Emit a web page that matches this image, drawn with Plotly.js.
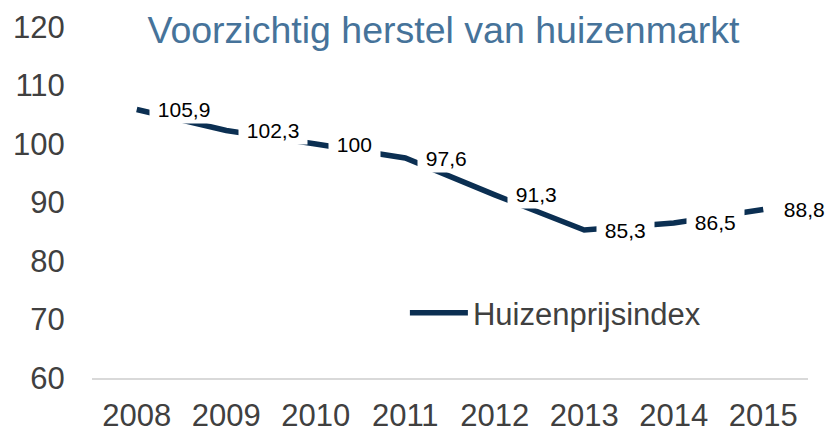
<!DOCTYPE html>
<html>
<head>
<meta charset="utf-8">
<script src="https://cdn.plot.ly/plotly-3.0.1.min.js"></script>
<style>
  html, body { margin: 0; padding: 0; background: #fff; }
  #chart { width: 832px; height: 429px; }
</style>
</head>
<body>
<div id="chart"></div>
<script>
    // huizenprijsindex per jaar
    var years = ['2008', '2009', '2010', '2011', '2012', '2013', '2014', '2015'];
    var index = [105.9, 102.3, 100, 97.6, 91.3, 85.3, 86.5, 88.8];
    var seriesName = 'Huizenprijsindex';
    var yTicks = [60, 70, 80, 90, 100, 110, 120];

    var trace = {
      x: years,
      y: index,
      name: seriesName,
      type: 'scatter',
      mode: 'lines',
      line: {color: '#0b2f52', width: 5.5},
      hoverinfo: 'skip'
    };

    // labels with white box, to the right of each point (comma decimals)
    // x given as category position, a '2008' string would be read as index 2008
    var labels = [];
    for (var i = 0; i < years.length; i++)
    {
      labels.push({
        x: i,
        y: index[i],
        text: '\u00a0' + String(index[i]).replace('.', ',') + '\u00a0',
        showarrow: false,
        xanchor: 'left',
        yanchor: 'middle',
        xshift: 12,
        bgcolor: '#ffffff',
        borderpad: 2,
        font: {family: 'Liberation Sans, Arial, sans-serif', size: 21, color: '#000000'}
      });
    }

    var layout = {
      width: 832,
      height: 429,
      margin: {l: 92, r: 24, t: 27, b: 51},
      paper_bgcolor: '#ffffff',
      plot_bgcolor: '#ffffff',
      font: {family: 'Liberation Sans, Arial, sans-serif', color: '#404040'},
      title: {
        text: 'Voorzichtig herstel van huizenmarkt',
        font: {size: 37.5, color: '#46739a'},
        x: 0.533,
        xanchor: 'center',
        y: 0.93,
        yanchor: 'middle'
      },
      xaxis: {
        type: 'category',
        categoryorder: 'array',
        categoryarray: years,
        range: [-0.5, years.length - 0.5],
        showgrid: false,
        zeroline: false,
        showline: true,
        linecolor: '#d9d9d9',
        linewidth: 1.5,
        ticks: 'outside',
        ticklen: 9,
        tickcolor: 'rgba(0,0,0,0)',
        tickfont: {size: 31, color: '#404040'},
        automargin: false
      },
      yaxis: {
        range: [60, 120],
        tickvals: yTicks,
        showgrid: false,
        zeroline: false,
        showline: false,
        ticks: 'outside',
        ticklen: 20,
        tickcolor: 'rgba(0,0,0,0)',
        tickfont: {size: 31, color: '#404040'},
        automargin: false
      },
      showlegend: true,
      legend: {
        x: 0.437,
        y: 0.185,
        xanchor: 'left',
        yanchor: 'middle',
        bgcolor: 'rgba(0,0,0,0)',
        itemwidth: 58,
        font: {size: 31, color: '#404040'}
      },
      annotations: labels
    };

    Plotly.newPlot('chart', [trace], layout, {displayModeBar: false, staticPlot: true});
</script>
</body>
</html>
